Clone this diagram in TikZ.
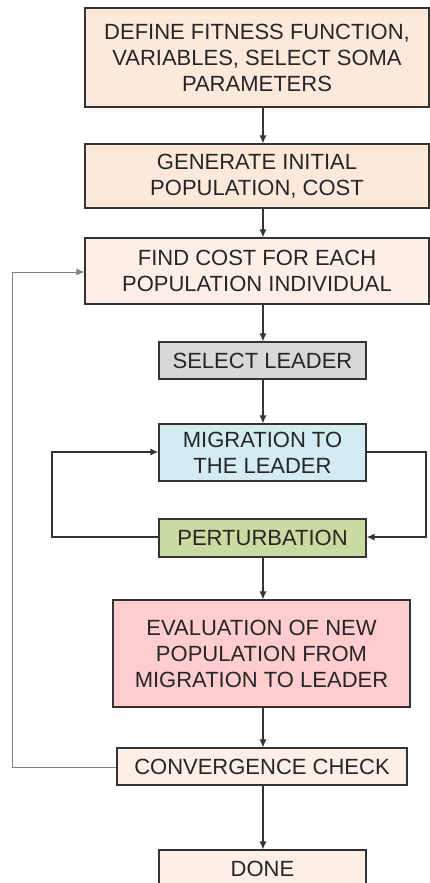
\documentclass[tikz,border=0pt]{standalone}
\usepackage{fontspec}
\setmainfont{Liberation Sans}
\usetikzlibrary{arrows.meta}
\definecolor{peach}{HTML}{FCE9DC}
\definecolor{peachl}{HTML}{FDEFE6}
\definecolor{lgray}{HTML}{D8D8D8}
\definecolor{lblue}{HTML}{D3EBF1}
\definecolor{lgreen}{HTML}{CADBA2}
\definecolor{lpink}{HTML}{FFCDCD}
\definecolor{edge}{HTML}{333333}
\tikzset{
  box/.style={draw=edge, line width=1.2pt, inner sep=0pt, font=\fontsize{22}{26}\selectfont, text=black!85, align=center},
  conn/.style={draw=black!80, line width=1.3pt, -{Latex[length=8pt,width=7pt]}},
  fb/.style={draw=black!50, line width=0.9pt, -{Latex[length=8pt,width=7pt]}, }
}
\begin{document}
\begin{tikzpicture}[x=1pt,y=-1pt]
\useasboundingbox (0,0) rectangle (430,883);
\fill[white] (0,0) rectangle (430,883);
\node[box, fill=peach, minimum width=344pt, minimum height=99pt] (b1) at (257,57.5) {DEFINE FITNESS FUNCTION,\\VARIABLES, SELECT SOMA\\PARAMETERS};
\node[box, fill=peach, minimum width=344pt, minimum height=64pt] (b2) at (257,176) {GENERATE INITIAL\\POPULATION, COST};
\node[box, fill=peachl, minimum width=344pt, minimum height=66pt] (b3) at (257,271) {FIND COST FOR EACH\\POPULATION INDIVIDUAL};
\node[box, fill=lgray, minimum width=207pt, minimum height=37pt] (b4) at (262.5,360.5) {SELECT LEADER};
\node[box, fill=lblue, minimum width=207pt, minimum height=57pt] (b5) at (262.5,452.5) {MIGRATION TO\\THE LEADER};
\node[box, fill=lgreen, minimum width=207pt, minimum height=38pt] (b6) at (262.5,538) {PERTURBATION};
\node[box, fill=lpink, minimum width=297pt, minimum height=107pt] (b7) at (261.5,653.5) {EVALUATION OF NEW\\POPULATION FROM\\MIGRATION TO LEADER};
\node[box, fill=peachl, minimum width=290pt, minimum height=37pt] (b8) at (262,766.5) {CONVERGENCE CHECK};
\node[box, fill=peachl, minimum width=207pt, minimum height=38pt] (b9) at (262.5,869) {DONE};
\coordinate (l1) at (52,452);
\coordinate (l2) at (52,537);
\coordinate (r1) at (426,452);
\coordinate (r2) at (426,537);
\coordinate (f1) at (12,767);
\coordinate (f2) at (12,272);
\draw[conn] (b1.south -| 263,0) -- (b2.north -| 263,0);
\draw[conn] (b2.south -| 263,0) -- (b3.north -| 263,0);
\draw[conn] (b3.south -| 263,0) -- (b4.north -| 263,0);
\draw[conn] (b4.south -| 263,0) -- (b5.north -| 263,0);
\draw[conn] (b6.south -| 263,0) -- (b7.north -| 263,0);
\draw[conn] (b7.south -| 263,0) -- (b8.north -| 263,0);
\draw[conn] (b8.south -| 263,0) -- (b9.north -| 263,0);
\draw[conn] (b6.west |- l2) -- (l2) -- (l1) -- (b5.west |- l1);
\draw[conn] (b5.east |- r1) -- (r1) -- (r2) -- (b6.east |- r2);
\draw[fb] (b8.west |- f1) -- (f1) -- (f2) -- (b3.west |- f2);
\end{tikzpicture}
\end{document}
